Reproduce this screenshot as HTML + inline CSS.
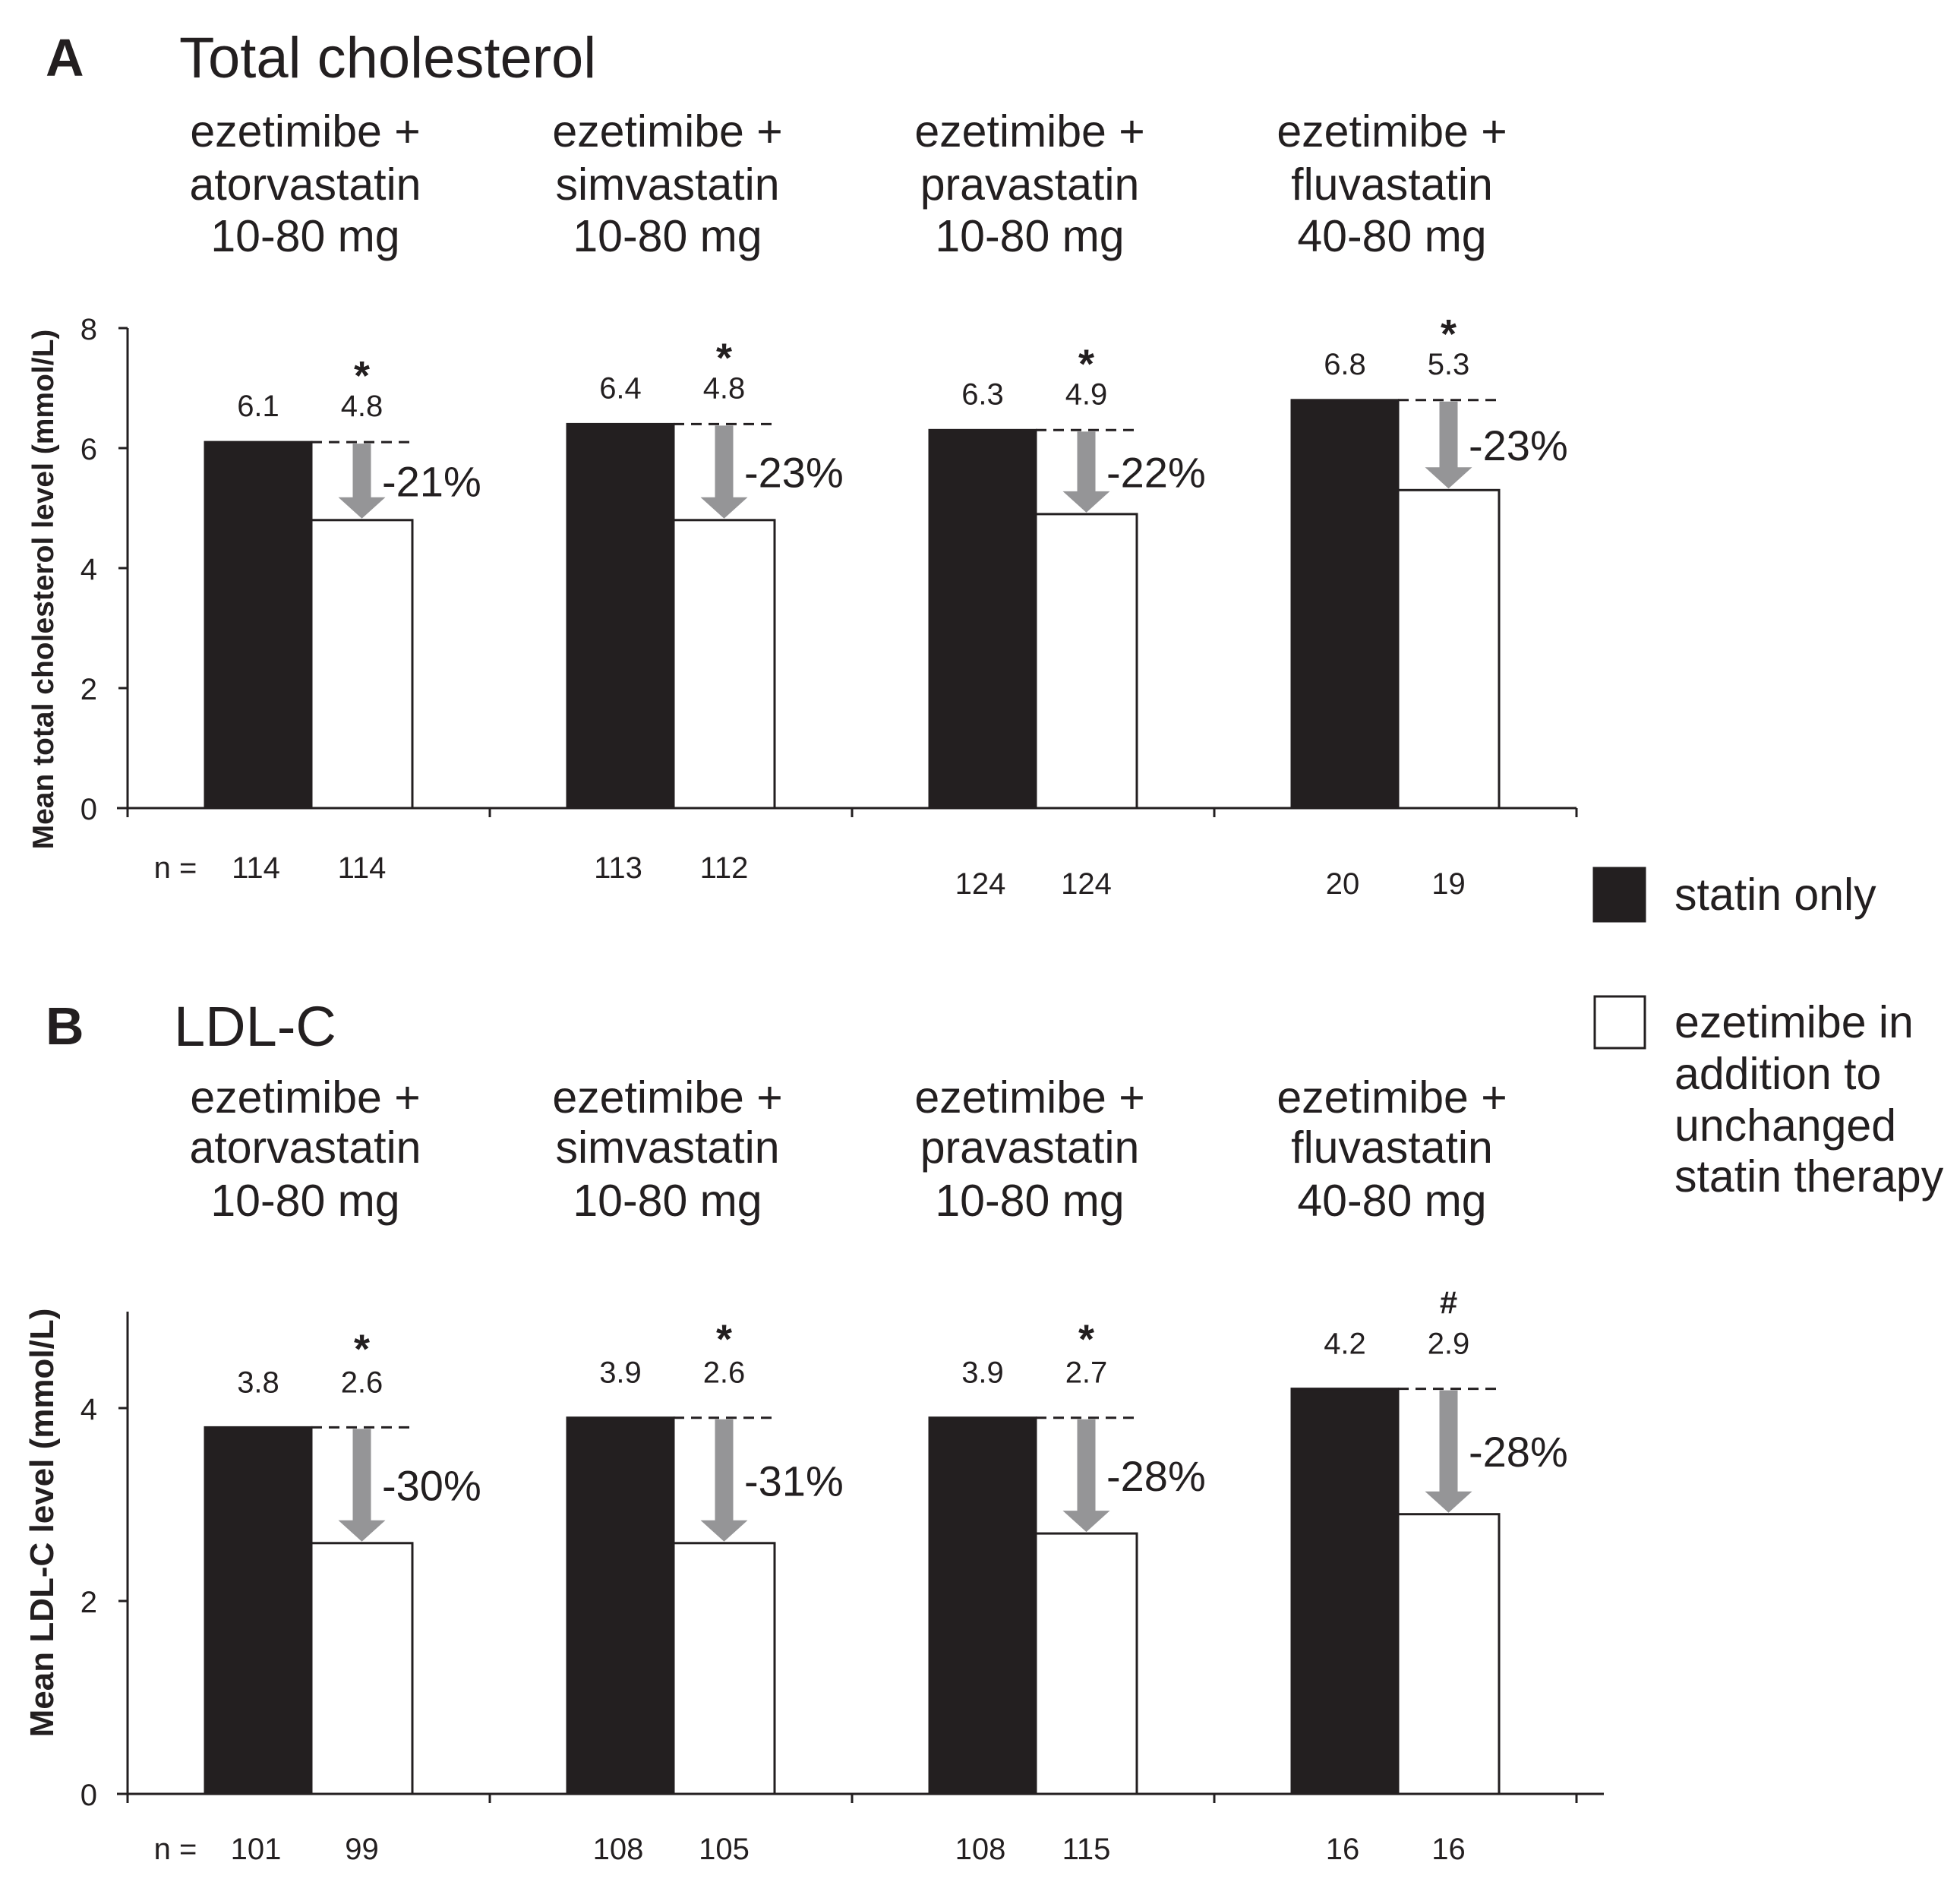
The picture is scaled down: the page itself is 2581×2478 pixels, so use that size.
<!DOCTYPE html>
<html><head><meta charset="utf-8">
<style>
html,body{margin:0;padding:0;background:#fff;}
svg{display:block;}
text{font-family:"Liberation Sans Narrow","Liberation Sans",sans-serif;fill:#231f20;}
</style></head>
<body>
<svg id="chart" width="2581" height="2478" viewBox="0 0 2581 2478" xmlns="http://www.w3.org/2000/svg">
<text x="60" y="100" font-size="70" font-weight="bold" style="font-family:'Liberation Sans',sans-serif">A</text>
<text x="236" y="102" font-size="76" style="font-family:'Liberation Sans',sans-serif">Total cholesterol</text>
<text x="60" y="1375" font-size="70" font-weight="bold" style="font-family:'Liberation Sans',sans-serif">B</text>
<text x="229" y="1377" font-size="74" style="font-family:'Liberation Sans',sans-serif">LDL-C</text>
<g>
<rect x="2099" y="1143" width="67" height="70" fill="#231f20" stroke="#231f20" stroke-width="3"/>
<text x="2205" y="1198" font-size="59" style="font-family:'Liberation Sans',sans-serif">statin only</text>
<rect x="2100" y="1312" width="66" height="68" fill="#fff" stroke="#231f20" stroke-width="3"/>
<g font-size="59" style="font-family:'Liberation Sans',sans-serif">
<text x="2205" y="1366">ezetimibe in</text>
<text x="2205" y="1434">addition to</text>
<text x="2205" y="1502">unchanged</text>
<text x="2205" y="1569">statin therapy</text>
</g></g>
</svg>
<script>
const groupLabels = [["ezetimibe +","atorvastatin","10-80 mg"],["ezetimibe +","simvastatin","10-80 mg"],["ezetimibe +","pravastatin","10-80 mg"],["ezetimibe +","fluvastatin","40-80 mg"]];
const tcStatin = [6.1, 6.4, 6.3, 6.8];
const tcEze = [4.8, 4.8, 4.9, 5.3];
const tcPct = ["-21%","-23%","-22%","-23%"];
const tcSig = ["*","*","*","*"];
const tcNStatin = [114, 113, 124, 20];
const tcNEze = [114, 112, 124, 19];
const tcTicks = [0, 2, 4, 6, 8];
const ldlStatin = [3.8, 3.9, 3.9, 4.2];
const ldlEze = [2.6, 2.6, 2.7, 2.9];
const ldlPct = ["-30%","-31%","-28%","-28%"];
const ldlSig = ["*","*","*","#"];
const ldlNStatin = [101, 108, 108, 16];
const ldlNEze = [99, 105, 115, 16];
const ldlTicks = [0, 2, 4];

const svg = document.getElementById('chart');
const NS = 'http://www.w3.org/2000/svg';
function mk(tag, attrs, parent){const e=document.createElementNS(NS,tag);for(const k in attrs)e.setAttribute(k,attrs[k]);(parent||svg).appendChild(e);return e;}
function txt(s, attrs, parent){const e=mk('text',attrs,parent);e.textContent=s;return e;}

function panel(cfg){
  const g = mk('g',{});
  
  
  const x0=168, step=477;
  const y = v => cfg.y0 - v*cfg.ppu;
  groupLabels.forEach((lines,i)=>{
    const cx = x0+102+137 + i*step - 5;
    lines.forEach((l,j)=>{
      const t = txt(l,{x:cx,y:cfg.headY[j],'font-size':59,'text-anchor':'middle',style:"font-family:'Liberation Sans',sans-serif"},g);
      
      
    });
  });
  const ya = mk('line',{x1:x0,y1:cfg.axisTop,x2:x0,y2:cfg.y0+12,stroke:'#231f20','stroke-width':3},g);
  
  
  const xa = mk('line',{x1:x0-14,y1:cfg.y0,x2:cfg.axisEnd,y2:cfg.y0,stroke:'#231f20','stroke-width':3},g);
  
  
  for(let i=1;i<=4;i++){
    const tx = x0 + i*step;
    const tk = mk('line',{x1:tx,y1:cfg.y0,x2:tx,y2:cfg.y0+12,stroke:'#231f20','stroke-width':3},g);
    
    
  }
  cfg.ticks.forEach(v=>{
    const tk = mk('line',{x1:x0-12,y1:y(v),x2:x0,y2:y(v),stroke:'#231f20','stroke-width':3},g);
    
    
    const tl = txt(String(v),{x:x0-40,y:y(v)+15,'font-size':40,'text-anchor':'end'},g);
    
    
  });
  const yt = txt(cfg.ytitle,{x:0,y:0,'font-size':cfg.ytitleSize,'font-weight':'bold','text-anchor':'middle',transform:`translate(70 ${cfg.ytitleY}) rotate(-90)`,style:"font-family:'Liberation Sans',sans-serif"},g);
  
  
  const nl = txt('n =',{x:231,y:cfg.nY[0]+14,'font-size':40,'text-anchor':'middle'},g);
  
  
  cfg.statin.forEach((s,i)=>{
    const bx = x0+102+i*step, wx = bx+140, bw=140, ww=133;
    const e = cfg.eze[i];
    const b = mk('rect',{x:bx,y:y(s),width:bw,height:cfg.y0-y(s),fill:'#231f20',stroke:'#231f20','stroke-width':3},g);
    
    
    const w = mk('rect',{x:wx,y:y(e),width:ww,height:cfg.y0-y(e),fill:'#fff',stroke:'#231f20','stroke-width':3},g);
    
    
    const d = mk('line',{x1:wx,y1:y(s),x2:wx+ww,y2:y(s),stroke:'#231f20','stroke-width':3,'stroke-dasharray':'14 9'},g);
    
    
    const ax = wx+ww/2, ay1=y(s)+2, ay2=y(e)-2, hh=28;
    const ar = mk('path',{d:`M${ax-12},${ay1} L${ax+12},${ay1} L${ax+12},${ay2-hh} L${ax+31},${ay2-hh} L${ax},${ay2} L${ax-31},${ay2-hh} L${ax-12},${ay2-hh} Z`,fill:'#959597'},g);
    
    
    const pc = txt(cfg.pct[i],{x:wx+93,y:(y(s)+y(e))/2+20,'font-size':56},g);
    
    
    const ly = y(s) - cfg.labOff + 14;
    const v1 = txt(s.toFixed(1),{x:bx+bw/2,y:ly,'font-size':40,'text-anchor':'middle'},g);
    
    
    const v2 = txt(e.toFixed(1),{x:ax,y:ly,'font-size':40,'text-anchor':'middle'},g);
    
    
    const sg = txt(cfg.sig[i],{x:ax,y:ly-cfg.sigOff+(cfg.sig[i]==='*'?24:10),'font-size':cfg.sig[i]==='*'?54:42,'font-weight':'bold','text-anchor':'middle'},g);
    
    
    const nyy = (cfg.nY[i]) + 14;
    const n1 = txt(String(cfg.nS[i]),{x:bx+bw/2-3,y:nyy,'font-size':40,'text-anchor':'middle'},g);
    
    
    const n2 = txt(String(cfg.nE[i]),{x:ax,y:nyy,'font-size':40,'text-anchor':'middle'},g);
    
    
  });
}
panel({name:'panel-total-cholesterol',y0:1064,ppu:79,axisTop:432,axisEnd:2076,ticks:tcTicks,statin:tcStatin,eze:tcEze,pct:tcPct,sig:tcSig,nS:tcNStatin,nE:tcNEze,
  headY:[193,263,331],ytitle:'Mean total cholesterol level (mmol/L)',ytitleSize:39,ytitleY:776,nY:[1142,1142,1163,1163],labOff:48,sigOff:59});
panel({name:'panel-ldl-c',y0:2362,ppu:127,axisTop:1727,axisEnd:2112,ticks:ldlTicks,statin:ldlStatin,eze:ldlEze,pct:ldlPct,sig:ldlSig,nS:ldlNStatin,nE:ldlNEze,
  headY:[1465,1531,1601],ytitle:'Mean LDL-C level (mmol/L)',ytitleSize:44,ytitleY:2005,nY:[2434,2434,2434,2434],labOff:60,sigOff:63});
</script>
</body></html>
